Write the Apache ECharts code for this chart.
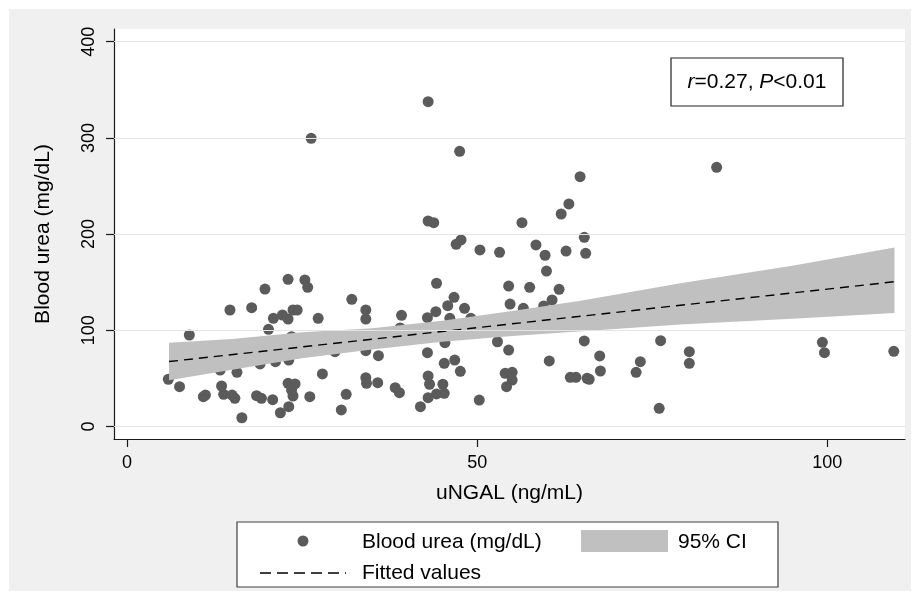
<!DOCTYPE html>
<html>
<head>
<meta charset="utf-8">
<script src="https://cdn.jsdelivr.net/npm/echarts@6/dist/echarts.min.js"></script>
<style>
  html, body { margin: 0; padding: 0; background: #ffffff; }
  #bg { position: absolute; left: 9px; top: 9px; width: 902px; height: 582px; background: #f0f0f0; }
  #chart { position: absolute; left: 0; top: 0; width: 916px; height: 599px; }
</style>
</head>
<body>
<div id="bg"></div>
<div id="chart"></div>
<script>
// ---- data ----
const uNGAL = [5.9, 7.5, 8.9, 10.9, 11.2, 13.5, 13.8, 15.0, 15.4, 14.7, 15.7, 13.3, 16.4, 17.8, 18.5, 19.2, 19.7, 20.2, 20.9, 22.2,
  23.0, 20.8, 23.0, 25.4, 25.8, 23.7, 24.3, 23.5, 23.0, 24.0, 23.5, 23.7, 21.9, 23.1, 26.1, 19.0, 21.2, 23.1, 50.4, 32.1,
  27.3, 34.1, 34.1, 39.2, 44.2, 46.7, 45.8, 44.1, 42.9, 48.2, 46.1, 49.1, 39.0, 29.7, 34.1, 35.9, 42.9, 45.3, 46.8, 47.6,
  45.4, 52.9, 27.9, 34.1, 34.2, 35.8, 31.3, 30.6, 38.3, 38.9, 43.0, 43.2, 45.1, 43.0, 44.2, 45.3, 41.9, 50.3, 26.3, 43.0,
  47.5, 43.0, 43.8, 47.0, 47.7, 53.2, 64.7, 63.1, 62.0, 56.4, 65.3, 58.4, 59.7, 62.7, 65.5, 59.9, 54.5, 57.5, 61.7, 54.7,
  56.6, 59.5, 60.7, 54.5, 65.3, 60.3, 67.5, 73.3, 72.7, 67.6, 76.2, 54.0, 55.0, 55.0, 54.2, 63.3, 64.1, 65.7, 66.0, 76.0,
  80.3, 80.3, 84.2, 99.3, 99.6, 109.5];
const bloodUrea = [49.1, 41.4, 95.1, 31.0, 32.7, 42.1, 33.5, 32.7, 29.3, 121.1, 56.3, 58.7, 9.1, 123.5, 32.0, 29.3, 142.9, 101.0, 112.5, 115.9,
  111.7, 27.9, 153.0, 152.3, 144.7, 121.1, 121.1, 93.3, 44.9, 44.2, 37.9, 31.7, 14.3, 20.6, 31.0, 65.0, 67.4, 69.1, 183.5, 132.2,
  112.5, 121.1, 111.7, 115.6, 148.9, 134.3, 125.6, 119.3, 113.1, 122.9, 112.5, 112.5, 102.4, 77.8, 78.8, 73.6, 76.7, 65.7, 69.1, 57.4,
  87.1, 88.1, 54.6, 50.7, 44.9, 45.5, 33.5, 17.2, 40.3, 35.1, 52.5, 43.9, 43.9, 29.9, 33.8, 34.5, 20.6, 27.5, 299.6, 337.6,
  286.1, 213.6, 211.9, 189.4, 193.9, 181.1, 259.7, 231.3, 220.9, 211.9, 196.7, 188.7, 178.0, 182.4, 180.0, 161.6, 146.0, 144.7, 142.6, 127.3,
  122.9, 125.3, 131.5, 79.5, 88.9, 68.1, 73.3, 67.4, 56.3, 57.7, 89.2, 55.3, 56.3, 48.3, 41.4, 51.1, 51.1, 50.1, 49.1, 18.9,
  77.8, 65.7, 269.4, 87.5, 76.7, 78.2];

const fitX = [6.0, 109.6];
const fitY = [67.5, 150.5];

const ciX = [6, 15, 25, 35, 45, 55, 65, 79, 95, 109.6];
const ciLow = [48, 59, 71, 80, 88, 94, 99, 106, 112, 118];
const ciHigh = [87, 91, 98, 102, 110, 120, 131, 149, 167, 186];

const xTicks = [0, 50, 100];
const yTicks = [0, 100, 200, 300, 400];

const xTitle = 'uNGAL (ng/mL)';
const yTitle = 'Blood urea (mg/dL)';
const seriesScatter = 'Blood urea (mg/dL)';
const seriesFit = 'Fitted values';
const seriesCI = '95% CI';

// ---- chart ----
const FONT = "'Liberation Sans', Arial, Helvetica, sans-serif";
const chart = echarts.init(document.getElementById('chart'), null, { renderer: 'canvas' });

const scatterData = uNGAL.map((x, i) => [x, bloodUrea[i]]);
const ciData = ciX.map((x, i) => [x, ciLow[i], ciHigh[i]]);
const fitData = fitX.map((x, i) => [x, fitY[i]]);

const option = {
  animation: false,
  textStyle: { fontFamily: FONT },
  grid: {
    left: 114, right: 11, top: 29, bottom: 160,
    show: true, backgroundColor: '#ffffff', borderWidth: 0
  },
  xAxis: {
    type: 'value',
    min: -1.86, max: 111.1,
    name: xTitle,
    nameLocation: 'middle',
    nameGap: 44,
    nameTextStyle: { fontFamily: FONT, fontSize: 21, color: '#000' },
    axisLine: { show: true, onZero: false, lineStyle: { color: '#1a1a1a', width: 1.2 } },
    axisTick: { show: true, length: 8, customValues: xTicks, lineStyle: { color: '#1a1a1a', width: 1.2 } },
    axisLabel: { customValues: xTicks, margin: 15, fontFamily: FONT, fontSize: 18, color: '#000' },
    splitLine: { show: false }
  },
  yAxis: {
    type: 'value',
    min: -13, max: 413.2,
    name: yTitle,
    nameLocation: 'middle',
    nameRotate: 90,
    nameGap: 60,
    nameTextStyle: { fontFamily: FONT, fontSize: 21, color: '#000' },
    axisLine: { show: true, onZero: false, lineStyle: { color: '#1a1a1a', width: 1.2 } },
    axisTick: { show: true, length: 8, customValues: yTicks, lineStyle: { color: '#1a1a1a', width: 1.2 } },
    axisLabel: { customValues: yTicks, rotate: 90, margin: 16, fontFamily: FONT, fontSize: 18, color: '#000' },
    splitLine: { show: false }
  },
  series: [
    {
      name: 'grid',
      type: 'scatter',
      data: [],
      z: 1,
      silent: true,
      markLine: {
        silent: true,
        symbol: 'none',
        label: { show: false },
        lineStyle: { color: '#e4e4e4', width: 1.2, type: 'solid' },
        data: yTicks.map(v => ({ yAxis: v }))
      }
    },
    {
      name: seriesScatter,
      type: 'scatter',
      data: scatterData,
      symbol: 'circle',
      symbolSize: 11,
      z: 2,
      itemStyle: { color: '#5b5b5b', opacity: 1 }
    },
    {
      name: seriesCI,
      type: 'custom',
      z: 3,
      data: ciData,
      encode: { x: 0, y: [1, 2] },
      renderItem: function (params, api) {
        if (params.dataIndex !== 0) return null;
        const pts = [];
        for (let i = 0; i < ciX.length; i++) pts.push(api.coord([ciX[i], ciHigh[i]]));
        for (let i = ciX.length - 1; i >= 0; i--) pts.push(api.coord([ciX[i], ciLow[i]]));
        return { type: 'polygon', shape: { points: pts }, style: { fill: '#c0c0c0' } };
      }
    },
    {
      name: seriesFit,
      type: 'line',
      data: fitData,
      z: 4,
      symbol: 'none',
      lineStyle: { color: '#000', width: 1.4, type: [9, 6] }
    }
  ],
  graphic: [
    // annotation box
    { type: 'rect', shape: { x: 671, y: 58, width: 172, height: 48 },
      style: { fill: '#fff', stroke: '#222', lineWidth: 1.2 }, z: 10 },
    { type: 'text', x: 757, y: 82, z: 11,
      style: { text: '{i|r}=0.27, {i|P}<0.01', align: 'center', verticalAlign: 'middle',
        font: '21px ' + FONT, fill: '#000',
        rich: { i: { fontStyle: 'italic', fontSize: 21, fontFamily: FONT } } } },
    // legend
    { type: 'rect', shape: { x: 237, y: 522, width: 541, height: 65 },
      style: { fill: '#fff', stroke: '#404040', lineWidth: 1.2 }, z: 10 },
    { type: 'circle', shape: { cx: 303, cy: 541, r: 5.5 }, style: { fill: '#5b5b5b' }, z: 11 },
    { type: 'text', x: 362, y: 542, z: 11,
      style: { text: seriesScatter, verticalAlign: 'middle', font: '21px ' + FONT, fill: '#000' } },
    { type: 'rect', shape: { x: 581, y: 530, width: 87, height: 22 }, style: { fill: '#c0c0c0' }, z: 11 },
    { type: 'text', x: 678, y: 542, z: 11,
      style: { text: seriesCI, verticalAlign: 'middle', font: '21px ' + FONT, fill: '#000' } },
    { type: 'line', shape: { x1: 260, y1: 573, x2: 346, y2: 573 },
      style: { stroke: '#000', lineWidth: 1.3, lineDash: [11, 6] }, z: 11 },
    { type: 'text', x: 362, y: 573, z: 11,
      style: { text: seriesFit, verticalAlign: 'middle', font: '21px ' + FONT, fill: '#000' } }
  ]
};
chart.setOption(option);
</script>
</body>
</html>
